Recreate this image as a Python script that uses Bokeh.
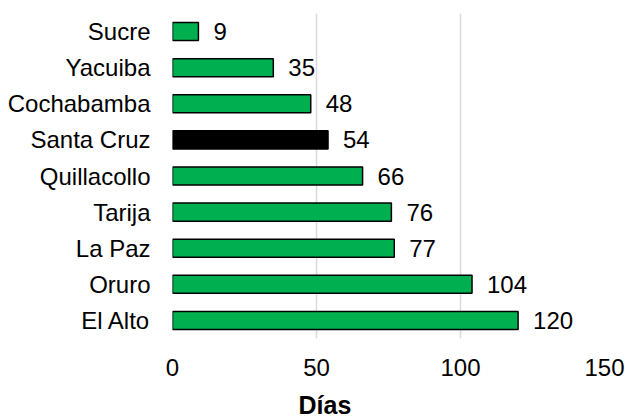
from bokeh.plotting import figure
from bokeh.models import ColumnDataSource, Title, FactorRange, Range1d, FixedTicker
from bokeh.core.properties import value
from bokeh.embed import file_html
from bokeh.resources import INLINE

cities = ["El Alto", "Oruro", "La Paz", "Tarija", "Quillacollo", "Santa Cruz", "Cochabamba", "Yacuiba", "Sucre"]
days = [120, 104, 77, 76, 66, 54, 48, 35, 9]
colors = ["#00B050" if c != "Santa Cruz" else "#000000" for c in cities]
x_ticks = [0, 50, 100, 150]
x_title = "Días"

src = ColumnDataSource(dict(city=cities, days=days, color=colors, lab=[str(d) for d in days]))

p = figure(y_range=FactorRange(*cities, range_padding=0), x_range=Range1d(0, 150),
           frame_width=432, frame_height=325, min_border_left=172, min_border_right=21,
           min_border_top=13, min_border_bottom=80, width=625, height=418,
           output_backend="svg", toolbar_location=None)
p.outline_line_color = None
p.background_fill_color = "white"
p.border_fill_color = "white"

p.hbar(y="city", right="days", left=0, height=0.5, fill_color="color",
       line_color="black", line_width=1.5, source=src)
p.text(x="days", y="city", text="lab", source=src, x_offset=15, text_align="left",
       text_baseline="middle", text_font=value("Liberation Sans"), text_font_size="24px",
       text_color="black")

p.xaxis.ticker = FixedTicker(ticks=x_ticks)
p.xgrid.ticker = FixedTicker(ticks=x_ticks)
p.xgrid.grid_line_color = "#d9d9d9"
p.xgrid.grid_line_width = 1.5
p.ygrid.grid_line_color = None
for ax in (p.xaxis, p.yaxis):
    ax.axis_line_color = None
    ax.major_tick_line_color = None
    ax.minor_tick_line_color = None
    ax.major_label_text_font = "Liberation Sans"
    ax.major_label_text_font_size = "24px"
    ax.major_label_text_color = "black"
p.xaxis.major_label_standoff = 14
p.yaxis.major_label_standoff = 16

p.add_layout(Title(text=x_title, align="left", offset=126, standoff=20, text_font="Liberation Sans",
                   text_font_size="25px", text_font_style="bold", text_color="black"), "below")

open("out.html", "w").write(file_html(p, INLINE))
